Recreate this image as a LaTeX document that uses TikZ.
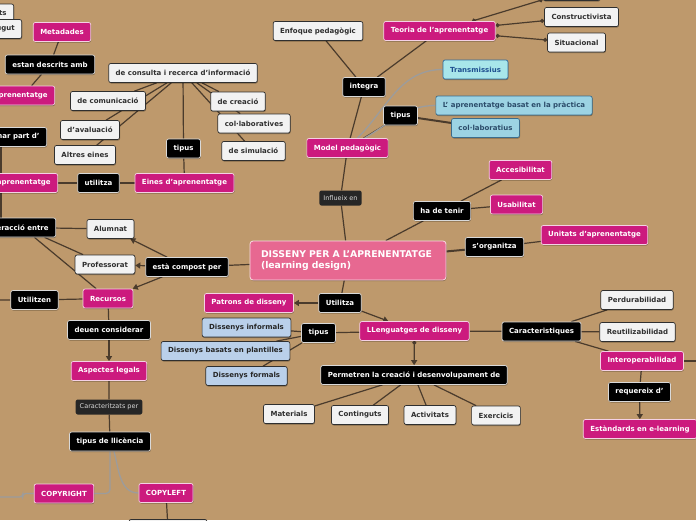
\documentclass[tikz,border=0pt]{standalone}
\usepackage{fontspec}
\setmainfont{DejaVu Sans}
\usepackage{xcolor}
\usepackage{tikz}
\usetikzlibrary{arrows.meta,positioning,backgrounds,shadows}
\definecolor{maptan}{HTML}{BE996C}
\definecolor{mappink}{HTML}{CC1A7E}
\definecolor{mapcentre}{HTML}{E76891}
\definecolor{mapink}{HTML}{2F2F2F}
\definecolor{mapwhite}{HTML}{F2F2F2}
\definecolor{mapblue}{HTML}{BAD0EA}
\definecolor{mapcyan}{HTML}{A8E6EA}
\definecolor{mapcyanline}{HTML}{2E6A9E}
\definecolor{mapcyantext}{HTML}{1E4F8F}
\definecolor{mapsky}{HTML}{9CD3E3}
\definecolor{mapskyline}{HTML}{3B6C8C}
\definecolor{mapskytext}{HTML}{2B4C6A}
\definecolor{mapline}{HTML}{4A3B2C}
\definecolor{mapgrey}{HTML}{9C9C9C}
\definecolor{maplabel}{HTML}{262626}
\pgfdeclarelayer{edges}
\pgfsetlayers{background,edges,main}
\tikzset{
  basenode/.style={rounded corners=2pt,minimum height=19pt,inner xsep=7pt,inner ysep=2pt,line width=0.7pt,font=\bfseries\fontsize{7}{8}\selectfont,
    drop shadow={shadow xshift=0.5pt,shadow yshift=-1pt,fill=black,opacity=0.3}},
  whitenode/.style={basenode,draw=mapink,fill=mapwhite,text=mapink},
  blacknode/.style={basenode,draw=white!85!black,fill=black,text=white},
  pinknode/.style={basenode,draw=white!80!mappink,fill=mappink,text=white},
  bluenode/.style={basenode,draw=mapink,fill=mapblue,text=black!85},
  cyannode/.style={basenode,draw=mapcyanline,fill=mapcyan,text=mapcyantext},
  skynode/.style={basenode,draw=mapskyline,fill=mapsky,text=mapskytext},
  labelnode/.style={rounded corners=2pt,minimum height=15pt,inner xsep=4pt,fill=maplabel,text=white!85!black,font=\fontsize{6.5}{7.5}\selectfont},
  centernode/.style={rounded corners=3pt,draw=white!75!mapcentre,line width=0.8pt,fill=mapcentre,text=white,font=\bfseries\fontsize{9.3}{11.5}\selectfont,text width=174pt,inner xsep=11pt,minimum height=39pt,align=left,
    drop shadow={shadow xshift=0.5pt,shadow yshift=-1pt,fill=black,opacity=0.3}},
  maplink/.style={draw=mapline,line width=1.2pt},
  greylink/.style={draw=mapgrey,line width=1.3pt},
  maparrow/.style={maplink,-{Triangle[length=5pt,width=6pt]}},
  dotlink/.style={maplink,{Circle[length=4pt]}-{Circle[length=4pt]}},
  dotarrow/.style={maplink,{Circle[length=4pt]}-{Triangle[length=5pt,width=6pt]}},
}

\begin{document}
\begin{tikzpicture}[x=1pt,y=-1pt]
  \begin{pgfonlayer}{background}
    \fill[maptan] (0,0) rectangle (696,520);
  \end{pgfonlayer}
  \useasboundingbox (0,0) rectangle (696,520);
  \coordinate (leftcol) at (1,0);
  \coordinate (offutil) at (-6,300);
  \coordinate (offcright) at (-6,497);
  \coordinate (offinter) at (706,361);

  % left branch
  \node[whitenode,anchor=east] (cutts) at (14,13.5) {ts};
  \node[whitenode,anchor=east] (cutgut) at (22,29) {ugut};
  \node[pinknode] (metad) at (62,32) {Metadades};
  \node[blacknode] (descr) at (50,64.5) {estan descrits amb};
  \node[pinknode,anchor=east] (objapr) at (55,95.5) {prenentatge};
  \node[blacknode,anchor=east] (formar) at (47,137) {nar part d'};
  \node[pinknode,anchor=east] (apren) at (58,183) {aprenentatge};
  \node[blacknode] (utza) at (98.5,183) {utilitza};
  \node[pinknode] (eines) at (184.5,183) {Eines d'aprenentatge};
  \node[blacknode,anchor=east] (interac) at (56,227.5) {eracció entre};
  \node[whitenode] (alum) at (110.5,229) {Alumnat};
  \node[whitenode] (prof) at (105,264.5) {Professorat};
  \node[blacknode] (compost) at (187,267) {està compost per};
  \node[pinknode] (recurs) at (108,298.5) {Recursos};
  \node[blacknode] (utzen) at (34.5,300) {Utilitzen};
  \node[blacknode] (deuen) at (109,330) {deuen considerar};
  \node[pinknode] (legals) at (109,371) {Aspectes legals};
  \node[labelnode] (caract) at (109,407) {Caracteritzats per};
  \node[blacknode] (llic) at (110,441.5) {tipus de llicència};
  \node[pinknode] (cright) at (64,493.5) {COPYRIGHT};
  \node[pinknode] (cleft) at (166,493) {COPYLEFT};
  \node[whitenode,minimum width=78pt] (cutbot) at (168,529) {};

  % tools
  \node[whitenode] (consulta) at (183,73) {de consulta i recerca d’informació};
  \node[whitenode] (comunic) at (108,101) {de comunicació};
  \node[whitenode] (creacio) at (238,101.5) {de creació};
  \node[whitenode] (colab) at (254,123.5) {col·laboratives};
  \node[whitenode] (avalu) at (90,130) {d'avaluació};
  \node[whitenode] (altres) at (85,155) {Altres eines};
  \node[whitenode] (simul) at (253.5,151) {de simulació};
  \node[blacknode] (tipeines) at (183.5,148.5) {tipus};

  % pedagogic model
  \node[whitenode] (enfoq) at (318,31) {Enfoque pedagògic};
  \node[pinknode] (teoria) at (439.5,31) {Teoria de l'aprenentatge};
  \node[whitenode,minimum width=57pt] (cuttop) at (571.5,-9) {};
  \node[whitenode] (constr) at (581.5,17) {Constructivista};
  \node[whitenode] (situac) at (576.5,42.5) {Situacional};
  \node[blacknode] (integra) at (364,87) {integra};
  \node[pinknode] (model) at (347.5,148) {Model pedagògic};
  \node[blacknode] (tipmodel) at (400.5,115.5) {tipus};
  \node[cyannode] (transm) at (475.5,69.5) {Transmissius};
  \node[skynode] (practica) at (514,105.5) {L' aprenentatge basat en la pràctica};
  \node[skynode] (colabs) at (485.5,128) {col·laboratius};
  \node[labelnode] (influeix) at (340.5,198) {Influeix en};

  % centre
  \node[centernode] (disseny) at (348,260.5) {DISSENY PER A L'APRENENTATGE\\(learning design)};

  % right branch
  \node[pinknode] (acces) at (520.5,170) {Accesibilitat};
  \node[blacknode] (hadeten) at (442,211) {ha de tenir};
  \node[pinknode] (usab) at (516.5,204.5) {Usabilitat};
  \node[blacknode] (sorg) at (494.5,247) {s'organitza};
  \node[pinknode] (unitats) at (594.5,235) {Unitats d'aprenentatge};

  % design languages
  \node[blacknode] (utiliza) at (340,303) {Utilitza};
  \node[pinknode] (patrons) at (249,303) {Patrons de disseny};
  \node[pinknode] (llengu) at (414.5,331) {LLenguatges de disseny};
  \node[bluenode] (dinf) at (246.5,327.5) {Dissenys informals};
  \node[blacknode] (tipllen) at (318.5,333) {tipus};
  \node[bluenode] (dplant) at (225.5,351) {Dissenys basats en plantilles};
  \node[bluenode] (dform) at (246.5,376) {Dissenys formals};
  \node[blacknode] (permet) at (414,375) {Permetren la creació i desenvolupament de};
  \node[whitenode] (mater) at (289,414) {Materials};
  \node[whitenode] (conting) at (360,415) {Continguts};
  \node[whitenode] (activ) at (430,415) {Activitats};
  \node[whitenode] (exerc) at (496,415.5) {Exercicis};
  \node[blacknode] (caracts) at (541.5,331.5) {Caracteristiques};
  \node[whitenode] (perdur) at (637,300) {Perdurabilidad};
  \node[whitenode] (reutil) at (637.5,332) {Reutilizabilidad};
  \node[pinknode] (interop) at (642,361) {Interoperabilidad};
  \node[blacknode] (requer) at (639.5,392) {requereix d'};
  \node[pinknode] (estand) at (640,429) {Estàndards en e-learning};

  \begin{pgfonlayer}{edges}
    \draw[maplink] (metad) -- (descr) -- (objapr);
    \draw[maplink] (formar.south -| leftcol) -- (apren.north -| leftcol);
    \draw[maplink] (apren.south -| leftcol) -- (interac.north -| leftcol);
    \draw[maplink] (apren) -- (utza) -- (eines);
    \draw[maplink] (eines) -- (tipeines) -- (consulta);
    \foreach \leaf in {comunic,avalu,altres,creacio,colab,simul}
      \draw[maplink] (consulta) -- (\leaf);
    \draw[maplink] (interac) -- (alum);
    \draw[maplink] (interac) -- (prof);
    \draw[maplink] (interac) -- (recurs);
    \foreach \leaf in {alum,prof,recurs}
      \draw[maparrow] (compost) -- (\leaf);
    \draw[maplink] (offutil) -- (utzen) -- (recurs) -- (deuen);
    \draw[maparrow] (deuen) -- (legals);
    \draw[maplink] (legals) -- (caract) -- (llic);
    \draw[greylink,rounded corners=4pt] (llic.south) |- (cright.east);
    \draw[greylink] ([xshift=4pt]llic.south) to[out=-75,in=180] (cleft.west);
    \draw[greylink,rounded corners=3pt] (cright.west) -- ++(-11,0) |- (offcright);
    \draw[maplink] (cleft) -- (cutbot);
    \draw[maplink] (compost) -- (disseny);
    \draw[maplink] (model) -- (influeix) -- (disseny);
    \draw[maplink] (model) -- (integra);
    \draw[maplink] (integra) -- (enfoq);
    \draw[maplink] (integra) -- (teoria);
    \foreach \leaf in {cuttop,constr,situac}
      \draw[dotlink] (teoria) -- (\leaf);
    \draw[maplink] (model) -- (tipmodel);
    \draw[maplink,line width=2pt] (tipmodel) -- (colabs);
    \draw[greylink] (model) to[out=45,in=180] (transm);
    \draw[greylink] (model) to[out=30,in=180] (practica);
    \draw[maplink] (disseny) -- (hadeten);
    \draw[maplink] (hadeten) -- (acces);
    \draw[maplink] (hadeten) -- (usab);
    \draw[maplink,line width=2pt] (disseny) -- (sorg);
    \draw[maplink] (sorg) -- (unitats);
    \draw[maplink] (disseny) -- (utiliza);
    \draw[maparrow] (utiliza) -- (patrons);
    \draw[maparrow] (utiliza) -- (llengu);
    \draw[maplink] (llengu) -- (tipllen);
    \foreach \leaf in {dinf,dplant,dform}
      \draw[maplink] (tipllen) -- (\leaf);
    \draw[dotarrow] (llengu) -- (permet);
    \foreach \leaf in {mater,conting,activ,exerc}
      \draw[maplink] (permet) -- (\leaf);
    \draw[maplink] (llengu) -- (caracts);
    \foreach \leaf in {perdur,reutil,interop}
      \draw[maplink] (caracts) -- (\leaf);
    \draw[maplink] (interop) -- (offinter);
    \draw[maplink] (interop) -- (requer);
    \draw[maparrow] (requer) -- (estand);
  \end{pgfonlayer}
\end{tikzpicture}
\end{document}
